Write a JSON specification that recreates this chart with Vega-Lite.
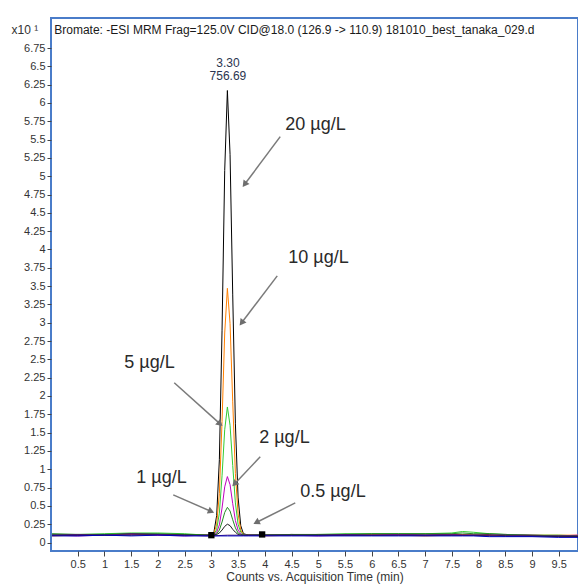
{
  "$schema": "https://vega.github.io/schema/vega-lite/v6.json",
  "autosize": {"type": "none"},
  "width": 527,
  "height": 533,
  "padding": {"left": 51, "top": 18, "right": 0, "bottom": 37},
  "background": "white",
  "config": {
    "view": {"stroke": "#4a7cc9", "strokeWidth": 2},
    "font": "Liberation Sans",
    "axis": {"grid": false, "domain": false, "labelOverlap": false, "tickColor": "#444", "labelColor": "#333", "labelFontSize": 11, "labelFont": "Liberation Sans", "titleFont": "Liberation Sans", "titleFontWeight": "normal", "titleColor": "#333", "titleFontSize": 12}
  },
  "datasets": {
    "lines": [
      {"s":"20","t":0.02,"c":0.10},{"s":"20","t":0.5,"c":0.10},{"s":"20","t":1.0,"c":0.11},{"s":"20","t":1.5,"c":0.12},{"s":"20","t":2.0,"c":0.11},{"s":"20","t":2.5,"c":0.11},{"s":"20","t":2.9,"c":0.10},
      {"s":"20","t":3.0,"c":0.10},{"s":"20","t":3.05,"c":0.15},{"s":"20","t":3.1,"c":0.37},{"s":"20","t":3.15,"c":1.13},{"s":"20","t":3.2,"c":2.89},{"s":"20","t":3.25,"c":5.08},{"s":"20","t":3.3,"c":6.17},{"s":"20","t":3.35,"c":5.30},{"s":"20","t":3.4,"c":3.38},{"s":"20","t":3.45,"c":1.62},{"s":"20","t":3.5,"c":0.62},{"s":"20","t":3.55,"c":0.23},{"s":"20","t":3.6,"c":0.12},
      {"s":"20","t":3.7,"c":0.10},{"s":"20","t":4.0,"c":0.10},{"s":"20","t":4.5,"c":0.11},{"s":"20","t":5.0,"c":0.10},{"s":"20","t":5.5,"c":0.11},{"s":"20","t":6.0,"c":0.10},{"s":"20","t":6.5,"c":0.11},{"s":"20","t":7.0,"c":0.10},{"s":"20","t":7.5,"c":0.11},{"s":"20","t":7.7,"c":0.10},{"s":"20","t":7.9,"c":0.10},{"s":"20","t":8.2,"c":0.11},{"s":"20","t":8.5,"c":0.09},{"s":"20","t":9.0,"c":0.09},{"s":"20","t":9.5,"c":0.09},{"s":"20","t":9.86,"c":0.08},

      {"s":"10","t":0.02,"c":0.09},{"s":"10","t":0.5,"c":0.10},{"s":"10","t":1.0,"c":0.10},{"s":"10","t":1.5,"c":0.11},{"s":"10","t":2.0,"c":0.10},{"s":"10","t":2.5,"c":0.10},{"s":"10","t":2.9,"c":0.10},
      {"s":"10","t":3.0,"c":0.10},{"s":"10","t":3.05,"c":0.13},{"s":"10","t":3.1,"c":0.25},{"s":"10","t":3.15,"c":0.67},{"s":"10","t":3.2,"c":1.65},{"s":"10","t":3.25,"c":2.86},{"s":"10","t":3.3,"c":3.47},{"s":"10","t":3.35,"c":2.99},{"s":"10","t":3.4,"c":1.92},{"s":"10","t":3.45,"c":0.94},{"s":"10","t":3.5,"c":0.39},{"s":"10","t":3.55,"c":0.17},{"s":"10","t":3.6,"c":0.11},
      {"s":"10","t":3.7,"c":0.10},{"s":"10","t":4.0,"c":0.09},{"s":"10","t":4.5,"c":0.10},{"s":"10","t":5.0,"c":0.11},{"s":"10","t":5.5,"c":0.10},{"s":"10","t":6.0,"c":0.11},{"s":"10","t":6.5,"c":0.10},{"s":"10","t":7.0,"c":0.09},{"s":"10","t":7.5,"c":0.10},{"s":"10","t":7.7,"c":0.11},{"s":"10","t":7.9,"c":0.10},{"s":"10","t":8.2,"c":0.10},{"s":"10","t":8.5,"c":0.11},{"s":"10","t":9.0,"c":0.10},{"s":"10","t":9.5,"c":0.10},{"s":"10","t":9.86,"c":0.10},

      {"s":"5","t":0.02,"c":0.11},{"s":"5","t":0.5,"c":0.11},{"s":"5","t":1.0,"c":0.12},{"s":"5","t":1.5,"c":0.13},{"s":"5","t":2.0,"c":0.13},{"s":"5","t":2.5,"c":0.12},{"s":"5","t":2.9,"c":0.10},
      {"s":"5","t":3.0,"c":0.10},{"s":"5","t":3.05,"c":0.11},{"s":"5","t":3.1,"c":0.18},{"s":"5","t":3.15,"c":0.40},{"s":"5","t":3.2,"c":0.91},{"s":"5","t":3.25,"c":1.54},{"s":"5","t":3.3,"c":1.85},{"s":"5","t":3.35,"c":1.60},{"s":"5","t":3.4,"c":1.05},{"s":"5","t":3.45,"c":0.54},{"s":"5","t":3.5,"c":0.25},{"s":"5","t":3.55,"c":0.14},{"s":"5","t":3.6,"c":0.11},
      {"s":"5","t":3.7,"c":0.10},{"s":"5","t":4.0,"c":0.11},{"s":"5","t":4.5,"c":0.10},{"s":"5","t":5.0,"c":0.11},{"s":"5","t":5.5,"c":0.12},{"s":"5","t":6.0,"c":0.12},{"s":"5","t":6.5,"c":0.12},{"s":"5","t":7.0,"c":0.12},{"s":"5","t":7.5,"c":0.13},{"s":"5","t":7.7,"c":0.15},{"s":"5","t":7.9,"c":0.14},{"s":"5","t":8.2,"c":0.12},{"s":"5","t":8.5,"c":0.11},{"s":"5","t":9.0,"c":0.10},{"s":"5","t":9.5,"c":0.10},{"s":"5","t":9.86,"c":0.09},

      {"s":"2","t":0.02,"c":0.10},{"s":"2","t":0.5,"c":0.09},{"s":"2","t":1.0,"c":0.10},{"s":"2","t":1.5,"c":0.11},{"s":"2","t":2.0,"c":0.10},{"s":"2","t":2.5,"c":0.09},{"s":"2","t":2.9,"c":0.10},
      {"s":"2","t":3.0,"c":0.10},{"s":"2","t":3.05,"c":0.11},{"s":"2","t":3.1,"c":0.14},{"s":"2","t":3.15,"c":0.24},{"s":"2","t":3.2,"c":0.47},{"s":"2","t":3.25,"c":0.76},{"s":"2","t":3.3,"c":0.90},{"s":"2","t":3.35,"c":0.79},{"s":"2","t":3.4,"c":0.53},{"s":"2","t":3.45,"c":0.30},{"s":"2","t":3.5,"c":0.17},{"s":"2","t":3.55,"c":0.12},{"s":"2","t":3.6,"c":0.10},
      {"s":"2","t":3.7,"c":0.10},{"s":"2","t":4.0,"c":0.10},{"s":"2","t":4.5,"c":0.10},{"s":"2","t":5.0,"c":0.09},{"s":"2","t":5.5,"c":0.10},{"s":"2","t":6.0,"c":0.10},{"s":"2","t":6.5,"c":0.11},{"s":"2","t":7.0,"c":0.10},{"s":"2","t":7.5,"c":0.11},{"s":"2","t":7.7,"c":0.10},{"s":"2","t":7.9,"c":0.10},{"s":"2","t":8.2,"c":0.10},{"s":"2","t":8.5,"c":0.11},{"s":"2","t":9.0,"c":0.10},{"s":"2","t":9.5,"c":0.09},{"s":"2","t":9.86,"c":0.10},

      {"s":"1","t":0.02,"c":0.12},{"s":"1","t":0.5,"c":0.11},{"s":"1","t":1.0,"c":0.11},{"s":"1","t":1.5,"c":0.12},{"s":"1","t":2.0,"c":0.12},{"s":"1","t":2.5,"c":0.11},{"s":"1","t":2.9,"c":0.10},
      {"s":"1","t":3.0,"c":0.10},{"s":"1","t":3.05,"c":0.10},{"s":"1","t":3.1,"c":0.12},{"s":"1","t":3.15,"c":0.17},{"s":"1","t":3.2,"c":0.28},{"s":"1","t":3.25,"c":0.41},{"s":"1","t":3.3,"c":0.48},{"s":"1","t":3.35,"c":0.43},{"s":"1","t":3.4,"c":0.31},{"s":"1","t":3.45,"c":0.20},{"s":"1","t":3.5,"c":0.13},{"s":"1","t":3.55,"c":0.11},{"s":"1","t":3.6,"c":0.10},
      {"s":"1","t":3.7,"c":0.10},{"s":"1","t":4.0,"c":0.10},{"s":"1","t":4.5,"c":0.11},{"s":"1","t":5.0,"c":0.11},{"s":"1","t":5.5,"c":0.11},{"s":"1","t":6.0,"c":0.12},{"s":"1","t":6.5,"c":0.12},{"s":"1","t":7.0,"c":0.12},{"s":"1","t":7.5,"c":0.12},{"s":"1","t":7.7,"c":0.13},{"s":"1","t":7.9,"c":0.12},{"s":"1","t":8.2,"c":0.12},{"s":"1","t":8.5,"c":0.11},{"s":"1","t":9.0,"c":0.10},{"s":"1","t":9.5,"c":0.09},{"s":"1","t":9.86,"c":0.09},

      {"s":"0.5","t":0.02,"c":0.10},{"s":"0.5","t":0.5,"c":0.10},{"s":"0.5","t":1.0,"c":0.10},{"s":"0.5","t":1.5,"c":0.10},{"s":"0.5","t":2.0,"c":0.11},{"s":"0.5","t":2.5,"c":0.10},{"s":"0.5","t":2.9,"c":0.10},
      {"s":"0.5","t":3.0,"c":0.10},{"s":"0.5","t":3.05,"c":0.10},{"s":"0.5","t":3.1,"c":0.11},{"s":"0.5","t":3.15,"c":0.13},{"s":"0.5","t":3.2,"c":0.17},{"s":"0.5","t":3.25,"c":0.22},{"s":"0.5","t":3.3,"c":0.25},{"s":"0.5","t":3.35,"c":0.23},{"s":"0.5","t":3.4,"c":0.18},{"s":"0.5","t":3.45,"c":0.14},{"s":"0.5","t":3.5,"c":0.11},{"s":"0.5","t":3.55,"c":0.10},{"s":"0.5","t":3.6,"c":0.10},
      {"s":"0.5","t":3.7,"c":0.10},{"s":"0.5","t":4.0,"c":0.10},{"s":"0.5","t":4.5,"c":0.10},{"s":"0.5","t":5.0,"c":0.10},{"s":"0.5","t":5.5,"c":0.10},{"s":"0.5","t":6.0,"c":0.10},{"s":"0.5","t":6.5,"c":0.10},{"s":"0.5","t":7.0,"c":0.10},{"s":"0.5","t":7.5,"c":0.10},{"s":"0.5","t":7.7,"c":0.10},{"s":"0.5","t":7.9,"c":0.10},{"s":"0.5","t":8.2,"c":0.09},{"s":"0.5","t":8.5,"c":0.09},{"s":"0.5","t":9.0,"c":0.09},{"s":"0.5","t":9.5,"c":0.08},{"s":"0.5","t":9.86,"c":0.08},

      {"s":"b2","t":0.02,"c":0.10},{"s":"b2","t":0.5,"c":0.11},{"s":"b2","t":1.0,"c":0.10},{"s":"b2","t":1.5,"c":0.12},{"s":"b2","t":2.0,"c":0.11},{"s":"b2","t":2.5,"c":0.10},{"s":"b2","t":2.9,"c":0.09},{"s":"b2","t":3.0,"c":0.09},{"s":"b2","t":3.3,"c":0.10},{"s":"b2","t":3.6,"c":0.10},
      {"s":"b2","t":3.7,"c":0.10},{"s":"b2","t":4.0,"c":0.10},{"s":"b2","t":4.5,"c":0.10},{"s":"b2","t":5.0,"c":0.10},{"s":"b2","t":5.5,"c":0.11},{"s":"b2","t":6.0,"c":0.10},{"s":"b2","t":6.5,"c":0.10},{"s":"b2","t":7.0,"c":0.10},{"s":"b2","t":7.5,"c":0.10},{"s":"b2","t":7.7,"c":0.10},{"s":"b2","t":7.9,"c":0.10},{"s":"b2","t":8.2,"c":0.10},{"s":"b2","t":8.5,"c":0.10},{"s":"b2","t":9.0,"c":0.09},{"s":"b2","t":9.5,"c":0.09},{"s":"b2","t":9.86,"c":0.09},

      {"s":"b1","t":0.02,"c":0.09},{"s":"b1","t":0.5,"c":0.09},{"s":"b1","t":1.0,"c":0.10},{"s":"b1","t":1.5,"c":0.09},{"s":"b1","t":2.0,"c":0.10},{"s":"b1","t":2.5,"c":0.09},{"s":"b1","t":2.9,"c":0.09},{"s":"b1","t":3.0,"c":0.09},{"s":"b1","t":3.3,"c":0.09},{"s":"b1","t":3.6,"c":0.09},
      {"s":"b1","t":3.7,"c":0.09},{"s":"b1","t":4.0,"c":0.09},{"s":"b1","t":4.5,"c":0.09},{"s":"b1","t":5.0,"c":0.09},{"s":"b1","t":5.5,"c":0.09},{"s":"b1","t":6.0,"c":0.09},{"s":"b1","t":6.5,"c":0.09},{"s":"b1","t":7.0,"c":0.09},{"s":"b1","t":7.5,"c":0.09},{"s":"b1","t":7.7,"c":0.09},{"s":"b1","t":7.9,"c":0.09},{"s":"b1","t":8.2,"c":0.08},{"s":"b1","t":8.5,"c":0.08},{"s":"b1","t":9.0,"c":0.08},{"s":"b1","t":9.5,"c":0.07},{"s":"b1","t":9.86,"c":0.07}
    ],
    "marks": [
      {"t": 3.0, "c": 0.10},
      {"t": 3.95, "c": 0.11}
    ],
    "arrows": [
      {"t": 4.289, "c": 5.54, "t2": 3.634, "c2": 4.90},
      {"t": 4.233, "c": 3.64, "t2": 3.578, "c2": 3.01},
      {"t": 2.306, "c": 2.18, "t2": 3.148, "c2": 1.63},
      {"t": 3.915, "c": 1.17, "t2": 3.447, "c2": 0.81},
      {"t": 2.287, "c": 0.65, "t2": 2.979, "c2": 0.43},
      {"t": 4.570, "c": 0.54, "t2": 3.859, "c2": 0.28}
    ],
    "heads": [
      {"t": 3.634, "c": 4.90, "a": 216.7},
      {"t": 3.578, "c": 3.01, "a": 217.3},
      {"t": 3.148, "c": 1.63, "a": 131.6},
      {"t": 3.447, "c": 0.81, "a": 223.9},
      {"t": 2.979, "c": 0.43, "a": 113.4},
      {"t": 3.859, "c": 0.28, "a": 243.4}
    ],
    "labels": [
      {"t": 4.383, "c": 5.70, "label": "20 µg/L"},
      {"t": 4.44, "c": 3.89, "label": "10 µg/L"},
      {"t": 1.371, "c": 2.45, "label": "5 µg/L"},
      {"t": 3.896, "c": 1.43, "label": "2 µg/L"},
      {"t": 1.595, "c": 0.88, "label": "1 µg/L"},
      {"t": 4.663, "c": 0.69, "label": "0.5 µg/L"}
    ],
    "peak": [
      {"t": 3.31, "c": 6.55, "label": "3.30"},
      {"t": 3.31, "c": 6.37, "label": "756.69"}
    ],
    "head": [
      {"t": 0.06, "c": 7.0, "label": "Bromate: -ESI MRM Frag=125.0V CID@18.0 (126.9 -> 110.9) 181010_best_tanaka_029.d"}
    ]
  },
  "encoding": {
    "x": {"field": "t", "type": "quantitative",
          "scale": {"domain": [0, 9.86], "nice": false, "zero": false},
          "axis": {"values": [0.5,1,1.5,2,2.5,3,3.5,4,4.5,5,5.5,6,6.5,7,7.5,8,8.5,9,9.5], "format": ".3~g", "tickSize": 5, "labelPadding": 2, "labelOverlap": false, "title": "Counts vs. Acquisition Time (min)", "titlePadding": 2}},
    "y": {"field": "c", "type": "quantitative",
          "scale": {"domain": [-0.116, 7.16], "nice": false, "zero": false},
          "axis": {"values": [0,0.25,0.5,0.75,1,1.25,1.5,1.75,2,2.25,2.5,2.75,3,3.25,3.5,3.75,4,4.25,4.5,4.75,5,5.25,5.5,5.75,6,6.25,6.5,6.75], "format": ".3~g", "tickSize": 4, "labelPadding": 2, "labelOverlap": false, "title": "x10 ¹", "titleAngle": 0, "titleAlign": "left", "titleBaseline": "middle", "titleX": -40, "titleY": 11}}
  },
  "layer": [
    {
      "data": {"name": "lines"},
      "mark": {"type": "line", "strokeWidth": 1, "clip": true},
      "encoding": {
        "color": {"field": "s", "type": "nominal", "legend": null,
                  "scale": {"domain": ["b2","b1","0.5","1","2","5","10","20"], "range": ["#4B1B6B","#0000C0","#1a1a1a","#228B22","#C000C0","#33CC33","#FF8000","#000000"]}},
        "order": {"field": "t", "type": "quantitative"}
      }
    },
    {
      "data": {"name": "marks"},
      "mark": {"type": "point", "shape": "square", "filled": true, "color": "#000000", "size": 40, "opacity": 1}
    },
    {
      "data": {"name": "arrows"},
      "mark": {"type": "rule", "color": "#7a7a7a", "strokeWidth": 1.5},
      "encoding": {
        "x2": {"field": "t2"},
        "y2": {"field": "c2"}
      }
    },
    {
      "data": {"name": "heads"},
      "mark": {"type": "point", "shape": "triangle", "filled": true, "color": "#6e6e6e", "size": 55, "opacity": 1},
      "encoding": {
        "angle": {"field": "a", "type": "quantitative", "scale": null}
      }
    },
    {
      "data": {"name": "labels"},
      "mark": {"type": "text", "align": "left", "baseline": "middle", "fontSize": 18, "color": "#2a2a2a", "font": "Liberation Sans"},
      "encoding": {
        "text": {"field": "label"}
      }
    },
    {
      "data": {"name": "peak"},
      "mark": {"type": "text", "align": "center", "baseline": "middle", "fontSize": 12, "color": "#2b3550", "font": "Liberation Sans"},
      "encoding": {
        "text": {"field": "label"}
      }
    },
    {
      "data": {"name": "head"},
      "mark": {"type": "text", "align": "left", "baseline": "middle", "fontSize": 12, "color": "#1a1a1a", "font": "Liberation Sans"},
      "encoding": {
        "text": {"field": "label"}
      }
    }
  ]
}
